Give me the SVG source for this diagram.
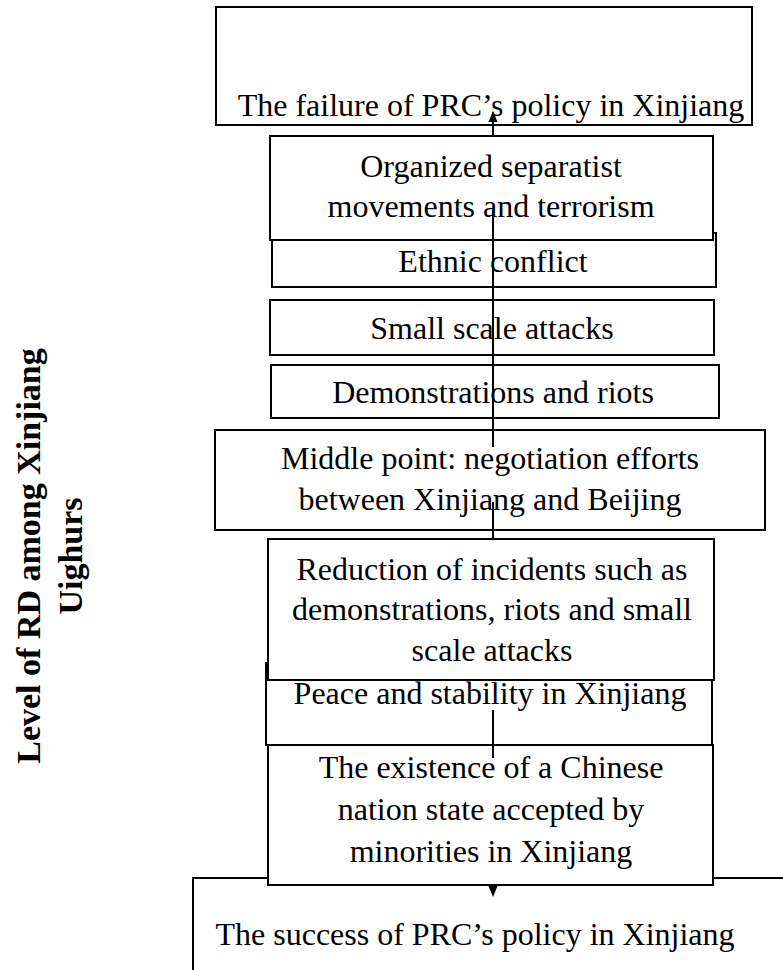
<svg xmlns="http://www.w3.org/2000/svg" width="783" height="970" viewBox="0 0 783 970">
<style>
.box{fill:#fff;stroke:#000;stroke-width:2}
.t{font-family:"Liberation Serif","Times New Roman",serif;font-size:32px;fill:#000;text-anchor:middle}
.lbl{font-family:"Liberation Serif","Times New Roman",serif;font-size:34px;font-weight:bold;fill:#000;text-anchor:middle}
.con{stroke:#000;stroke-width:2;fill:none}
</style>
<rect width="783" height="970" fill="#fff"/>
<g id="label">
<text class="lbl" transform="translate(40,556) rotate(-90)">Level of RD among Xinjiang</text>
<text class="lbl" transform="translate(82,556) rotate(-90)">Uighurs</text>
</g>
<g id="success">
<rect class="box" x="193" y="878" width="620" height="120"/>
<text class="t" x="475" y="945">The success of PRC’s policy in Xinjiang</text>
</g>
<g id="failure">
<rect class="box" x="216" y="7" width="536" height="118"/>
<text class="t" x="491" y="116">The failure of PRC’s policy in Xinjiang</text>
</g>
<g id="ethnic">
<rect class="box" x="272" y="233" width="444" height="54"/>
<text class="t" x="493" y="272">Ethnic conflict</text>
</g>
<g id="organized">
<rect class="box" x="270" y="136" width="443" height="104"/>
<text class="t" x="491" y="177">Organized separatist</text>
<text class="t" x="491" y="217">movements and terrorism</text>
</g>
<g id="small">
<rect class="box" x="270" y="300" width="444" height="55"/>
<text class="t" x="492" y="339">Small scale attacks</text>
</g>
<g id="demos">
<rect class="box" x="271" y="365" width="448" height="53"/>
<text class="t" x="493" y="403">Demonstrations and riots</text>
</g>
<g id="middle">
<rect class="box" x="215" y="430" width="550" height="100"/>
<text class="t" x="490" y="469">Middle point: negotiation efforts</text>
<text class="t" x="490" y="510">between Xinjiang and Beijing</text>
</g>
<g id="peace">
<rect class="box" x="266" y="663" width="446" height="82"/>
<text class="t" x="490" y="704">Peace and stability in Xinjiang</text>
</g>
<g id="reduction">
<rect class="box" x="268" y="539" width="446" height="141"/>
<text class="t" x="492" y="580">Reduction of incidents such as</text>
<text class="t" x="492" y="620">demonstrations, riots and small</text>
<text class="t" x="492" y="661">scale attacks</text>
</g>
<g id="existence">
<rect class="box" x="268" y="745" width="445" height="140"/>
<text class="t" x="491" y="778">The existence of a Chinese</text>
<text class="t" x="491" y="820">nation state accepted by</text>
<text class="t" x="491" y="862">minorities in Xinjiang</text>
</g>
<g id="connectors">
<line class="con" x1="493" y1="119" x2="493" y2="136"/>
<polygon points="493,111 488.5,122 497.5,122" fill="#000"/>
<line class="con" x1="493" y1="210" x2="493" y2="447"/>
<line class="con" x1="493" y1="502" x2="493" y2="539"/>
<line class="con" x1="493" y1="710" x2="493" y2="758"/>
<polygon points="488.5,886 497.5,886 493,897" fill="#000"/>
</g>
</svg>
